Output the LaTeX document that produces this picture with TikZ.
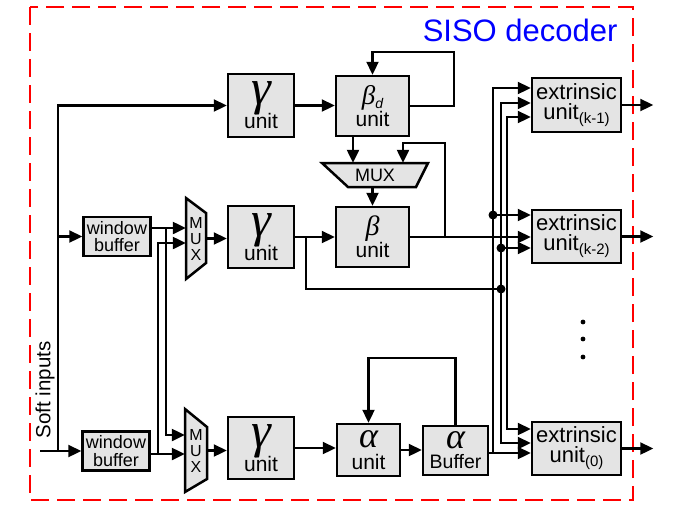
\documentclass[tikz,border=0pt]{standalone}
\usepackage{fontspec}
\setsansfont{Liberation Sans}
\newfontfamily\grkfont{Liberation Serif}
\usetikzlibrary{arrows.meta,calc}
\definecolor{blkfill}{RGB}{228,228,228}
\newcommand{\gsym}[2]{{\fontsize{#1}{#1}\selectfont\grkfont\itshape #2}}
\newcommand{\subx}[1]{{\fontsize{15}{15}\selectfont\raisebox{-4pt}{#1}}}

\begin{document}
\begin{tikzpicture}[x=1pt, y=-1pt,
  blk/.style={draw=black, line width=2.5pt, fill=blkfill, rectangle, inner sep=0pt,
    align=center, font=\sffamily\fontsize{21}{22}\selectfont},
  ubox/.style={blk, minimum width=66pt, minimum height=62pt},
  extb/.style={blk, minimum width=89pt, minimum height=54pt, font=\sffamily\fontsize{22}{20}\selectfont},
  wbuf/.style={blk, minimum width=67pt, minimum height=39pt, font=\sffamily\fontsize{18}{17.5}\selectfont},
  muxs/.style={draw=black, line width=2.5pt, fill=blkfill, line join=miter},
  muxt/.style={inner sep=0pt, align=center, font=\sffamily\fontsize{16}{16}\selectfont},
  ar/.style={-{Triangle[length=13pt,width=12pt]}, line width=2.3pt},
  biar/.style={{Triangle[length=13pt,width=12pt]}-{Triangle[length=13pt,width=12pt]}, line width=2.3pt},
  ln/.style={line width=2.3pt},
  jdot/.style={circle, fill=black, inner sep=0pt, minimum size=9pt},
]
\useasboundingbox (0,0) rectangle (682,504);

%==== Rahmen ====
\draw[red, line width=2.4pt, dash pattern=on 18pt off 8pt] (30,7) rectangle (633,500);
\node[anchor=east, text=blue, font=\sffamily\fontsize{31}{31}\selectfont] (title) at (621,30) {SISO decoder};
\node[rotate=90, font=\sffamily\fontsize{20.5}{20}\selectfont] (soft) at (45,390) {Soft inputs};

%==== Bloecke ====
\node[wbuf] (wb1) at (117,236.5) {window\\buffer};
\node[wbuf] (wb2) at (116,451) {window\\buffer};

\draw[muxs] (186,198) -- (206,213) -- (206,263) -- (186,279) -- cycle;
\node[muxt, minimum width=20pt, minimum height=81pt] (mux1) at (196,238.5) {M\\U\\X};
\draw[muxs] (185,409) -- (207,427) -- (207,479) -- (185,492) -- cycle;
\node[muxt, minimum width=22pt, minimum height=83pt] (mux2) at (196,450.5) {M\\U\\X};

\node[ubox, minimum height=63pt] (gam1) at (261,105.5) {\gsym{50}{γ}\\[-3pt]unit};
\node[ubox] (gam2) at (261,237) {\gsym{50}{γ}\\[-3pt]unit};
\node[ubox] (gam3) at (261,448) {\gsym{50}{γ}\\[-3pt]unit};

\node[ubox, minimum width=73pt, minimum height=60pt] (betad) at (372.5,106) {\gsym{27}{β}{\fontsize{14}{14}\selectfont\itshape\raisebox{-4pt}{d}}\\unit};
\draw[muxs] (322,163) -- (428,163) -- (416,187) -- (348,187) -- cycle;
\node[muxt, minimum width=106pt, minimum height=24pt, font=\sffamily\fontsize{18}{18}\selectfont] (muxb) at (375,175) {MUX};
\node[ubox, minimum width=73pt, minimum height=60pt] (beta) at (372.5,237) {\gsym{28}{β}\\unit};

\node[ubox, minimum width=63pt, minimum height=52pt] (alpha) at (368.5,450) {\gsym{36}{α}\\unit};
\node[ubox, minimum width=65pt, minimum height=49pt, font=\sffamily\fontsize{19.5}{20}\selectfont] (abuf) at (455.5,450.5) {\gsym{36}{α}\\Buffer};

\node[extb] (ext1) at (576.5,105) {extrinsic\\unit\subx{(k-1)}};
\node[extb, minimum height=53pt] (ext2) at (576.5,236.5) {extrinsic\\unit\subx{(k-2)}};
\node[extb, minimum height=53pt] (ext0) at (576.5,448.5) {extrinsic\\unit\subx{(0)}};

%==== Eingaenge ====
\coordinate (sin) at (40,451);
\coordinate (sj) at (58,451);
\draw[ar] (sin) -- (wb2.west);
\draw[ar] (sj) |- (gam1.west);
\draw[ar] (sj |- wb1.west) -- (wb1.west);

\draw[ar] ($(wb1.east)+(0,-8.5)$) -- ($(mux1.west)+(0,-10.5)$);
\draw[ar] ($(wb1.east)+(14,-8.5)$) |- ($(mux2.west)+(0,-15.5)$);
\draw[ar] ($(wb2.east)+(0,3)$) -- ($(mux2.west)+(0,3.5)$);
\draw[ar] ($(wb2.east)+(7,3)$) |- ($(mux1.west)+(0,4.5)$);

\draw[ar] (mux1.east) -- (mux1.east -| gam2.west);
\draw[ar] (mux2.east) -- (mux2.east -| gam3.west);

%==== gamma -> beta / alpha ====
\draw[ar] (gam1.east) -- (gam1.east -| betad.west);
\draw[ar] (gam2.east) -- (beta.west);
\draw[ar] (gam3.east) -- (gam3.east -| alpha.west);
\draw[ar] (alpha.east) -- (alpha.east -| abuf.west);

%==== Rueckkopplungen ====
\draw[ar] (betad.east) -| ($(betad.north)+(81.5,-23)$) -| (betad.north);
\draw[ar] ($(betad.south)+(-19.5,0)$) -- ($(muxb.north)+(-22,0)$);
\draw[ar] ($(beta.east)+(35,0)$) |- ($(muxb.north)+(28,-20)$) -- ($(muxb.north)+(28,0)$);
\draw[ar] (muxb.south -| beta.north) -- (beta.north);
\draw[ar] (abuf.north) |- ($(alpha.north)+(0,-65)$) -- (alpha.north);

%==== Busleitungen ====
\node[jdot] (jA) at (493,215) {};
\node[jdot] (jB1) at (501,248) {};
\node[jdot] (jB2) at (501,289) {};

\draw[ar] (beta.east) -- (beta.east -| ext2.west);
\coordinate (aout) at ($(abuf.east)+(0,2.5)$);
\draw[ar] (aout) -- (aout -| ext0.west);
\draw[ar] (aout -| jA) |- ($(ext1.west)+(0,-17)$);
\draw[ar] (jA.center) -- (jA -| ext2.west);
\draw[biar] ($(ext1.west)+(0,-2)$) -| (jB1.center) |- ($(ext0.west)+(0,-5.5)$);
\draw[ar] (jB1.center) -- (jB1 -| ext2.west);
\draw[ln] ($(gam2.east)+(11,0)$) |- (jB2.center);
\draw[biar] ($(ext1.west)+(0,12)$) -| ($(ext0.west)+(-24,-19.5)$) -- ($(ext0.west)+(0,-19.5)$);

%==== Ausgaenge ====
\foreach \e in {ext1,ext2,ext0}
  \draw[ar] (\e.east) -- ++(31,0);
\foreach \y in {322,339,357}
  \fill (583,\y) circle (2.4pt);

\end{tikzpicture}
\end{document}
